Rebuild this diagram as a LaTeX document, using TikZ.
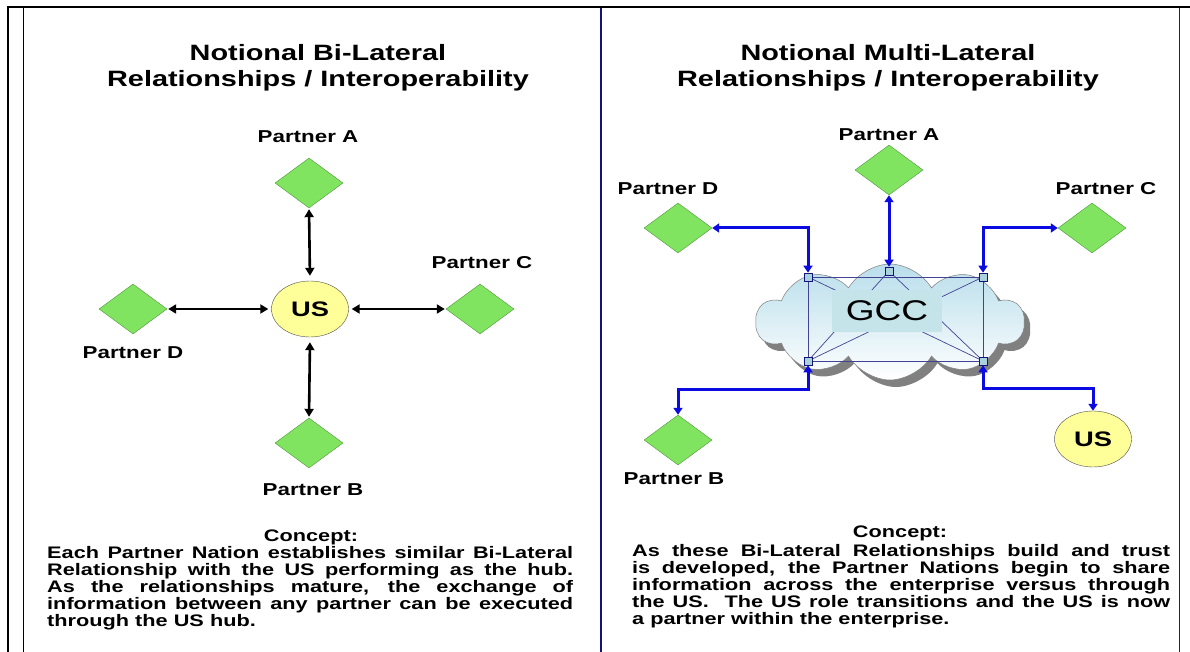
\documentclass[tikz,border=0pt]{standalone}
\usepackage{fontspec}
\setmainfont{Liberation Sans}[FakeStretch=1.3]
\usetikzlibrary{arrows.meta,shapes.geometric,shapes.symbols,shadows}
\definecolor{dgreen}{RGB}{128,228,96}
\definecolor{dgreenb}{RGB}{80,150,60}
\definecolor{usyel}{RGB}{255,255,153}
\definecolor{arrblue}{RGB}{10,10,225}
\definecolor{navyline}{RGB}{20,20,120}
\definecolor{cloudtop}{RGB}{185,222,235}
\definecolor{gccbox}{RGB}{197,228,234}
\definecolor{handlefill}{RGB}{170,210,220}
\tikzset{
  partner/.style={diamond, draw=dgreenb, fill=dgreen, minimum width=68pt, minimum height=50pt, inner sep=0pt},
  usnode/.style={ellipse, draw=black!70, fill=usyel, minimum width=77pt, minimum height=56pt, inner sep=0pt, font=\bfseries\fontsize{21}{22}\selectfont},
  lbl/.style={font=\bfseries\fontsize{17.2}{19}\selectfont},
  title/.style={align=center, font=\bfseries\fontsize{22.2}{26}\selectfont},
  bar/.style={draw=black, line width=2.6pt, {Triangle[length=8pt,width=9pt]}-{Triangle[length=8pt,width=9pt]}},
  blu/.style={draw=arrblue, line width=3pt, {Triangle[length=7pt,width=9pt]}-{Triangle[length=7pt,width=9pt]}},
  handle/.style={rectangle, draw=navyline, fill=handlefill, minimum size=8pt, inner sep=0pt, line width=0.7pt},
  mesh/.style={draw=navyline!80, line width=0.7pt},
  body/.style={inner sep=0pt, align=justify, font=\bfseries\fontsize{16.7}{17}\selectfont},
  head/.style={inner sep=0pt, font=\bfseries\fontsize{16.7}{17}\selectfont}
}
\begin{document}
\begin{tikzpicture}[x=1pt,y=-1pt]
\useasboundingbox (0,0) rectangle (1190,652);
% frame
\draw[line width=2.2pt] (7,7) -- (1190,7);
\draw[line width=2.2pt] (8,7) -- (8,652);
\draw[line width=1pt] (23,8) -- (23,652);
\draw[line width=1pt, black!85] (1179,8) -- (1179,652);
\draw[line width=2.5pt, navyline] (601,8) -- (601,652);

% ---------- left panel ----------
\node[title] (tl) at (318,68) {Notional Bi-Lateral\\Relationships / Interoperability};
\node[usnode] (us) at (310,309) {US};
\node[partner] (pa) at (309,183) {};
\node[partner] (pb) at (309,443) {};
\node[partner] (pc) at (480,309) {};
\node[partner] (pd) at (133,309) {};
\node[lbl] (la) at (308,137) {Partner A};
\node[lbl] (lb) at (313,490) {Partner B};
\node[lbl] (lc) at (482,263) {Partner C};
\node[lbl] (ld) at (133,353) {Partner D};
\draw[bar, shorten <=1pt, shorten >=5pt] (pa.south) -- (us.north);
\draw[bar, shorten <=1pt, shorten >=5pt] (pb.north) -- (us.south);
\draw[bar, shorten <=1pt, shorten >=3pt] (pc.west) -- (us.east);
\draw[bar, shorten <=1pt, shorten >=3pt] (pd.east) -- (us.west);

\node[head, anchor=north] (cl) at (311,530) {Concept:};
\node[body, anchor=north west, text width=526pt] (bl) at (47,546) {Each Partner Nation establishes similar Bi-Lateral\linebreak Relationship with the US performing as the hub.\linebreak As the relationships mature, the exchange of\linebreak information between any partner can be executed\linebreak through the US hub.};

% ---------- right panel ----------
\node[title] (tr) at (888,68) {Notional Multi-Lateral\\Relationships / Interoperability};
\node[cloud, cloud puffs=10, cloud puff arc=120, aspect=2.4, draw=black!50, line width=0.5pt,
      top color=cloudtop, bottom color=white, minimum width=268pt, minimum height=116pt,
      drop shadow={shadow xshift=6pt, shadow yshift=-7pt, fill=black!50, opacity=1}] (cloud) at (890,322) {};
\node[handle] (htl) at (808,277) {};
\node[handle] (htm) at (889,271) {};
\node[handle] (htr) at (983,277) {};
\node[handle] (hbl) at (808,361) {};
\node[handle] (hbr) at (983,361) {};
\draw[mesh] (htl.center) rectangle (hbr.center);
\draw[mesh] (htl.center) -- (hbr.center);
\draw[mesh] (htr.center) -- (hbl.center);
\draw[mesh] (htm.center) -- (hbl.center);
\draw[mesh] (htm.center) -- (hbr.center);
\node[handle] at (htl) {};
\node[handle] at (htm) {};
\node[handle] at (htr) {};
\node[handle] at (hbl) {};
\node[handle] at (hbr) {};
\node[fill=gccbox, minimum width=110pt, minimum height=42pt, inner sep=0pt, font=\fontsize{28.5}{29}\selectfont] (gcc) at (887,311) {GCC};

\node[partner] (ra) at (889,170) {};
\node[partner] (rd) at (678,228) {};
\node[partner] (rc) at (1092,228) {};
\node[partner] (rb) at (678,440) {};
\node[usnode] (rus) at (1093,439) {US};
\node[lbl] (lra) at (889,135) {Partner A};
\node[lbl] (lrd) at (668,189) {Partner D};
\node[lbl] (lrc) at (1106,189) {Partner C};
\node[lbl] (lrb) at (674,479) {Partner B};

\draw[blu] (rd.east) -| (htl.north);
\draw[blu] (ra.south) -- (htm.north);
\draw[blu] (rc.west) -| (htr.north);
\draw[blu] (hbl.south) -- ++(0,24) -| (rb.north);
\draw[blu] (hbr.south) -- ++(0,23) -| (rus.north);

\node[head, anchor=north] (cr) at (900,526) {Concept:};
\node[body, anchor=north west, text width=538pt] (br) at (632,544) {As these Bi-Lateral Relationships build and trust\linebreak is developed, the Partner Nations begin to share\linebreak information across the enterprise versus through\linebreak the US.\ \ The US role transitions and the US is now\linebreak a partner within the enterprise.};
\end{tikzpicture}
\end{document}
